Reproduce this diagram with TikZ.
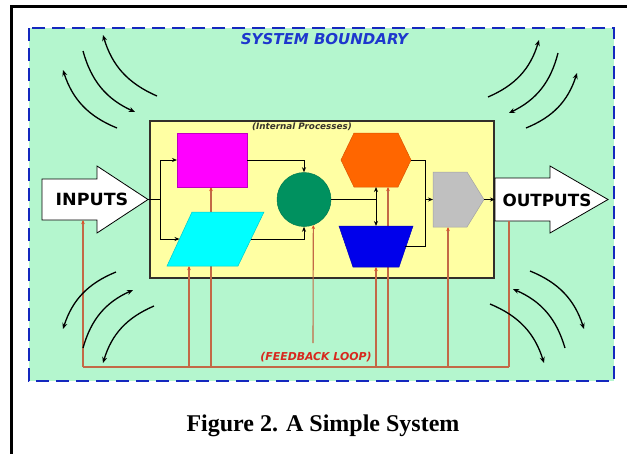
\documentclass[tikz,border=0pt]{standalone}
\usepackage{fontspec}
\usepackage{graphicx}
\setmainfont{Liberation Serif}
\newfontfamily\labelfont{DejaVu Sans}
\usetikzlibrary{arrows.meta,calc}

\definecolor{mint}{RGB}{180,246,206}
\definecolor{paleyellow}{RGB}{255,255,163}
\definecolor{edgeblue}{RGB}{20,40,190}
\definecolor{titleblue}{RGB}{30,55,205}
\definecolor{procmagenta}{RGB}{255,0,255}
\definecolor{proccyan}{RGB}{0,255,255}
\definecolor{procgreen}{RGB}{0,145,95}
\definecolor{procorange}{RGB}{255,102,0}
\definecolor{procblue}{RGB}{0,0,235}
\definecolor{procgray}{RGB}{192,192,192}
\definecolor{fbline}{RGB}{195,105,70}
\definecolor{fbtip}{RGB}{225,75,35}
\definecolor{fbtext}{RGB}{215,40,30}

\tikzset{
  anchorbox/.style={draw=none, inner sep=0pt, outer sep=0pt},
  wire/.style={draw=black, line width=1pt},
  wirearrow/.style={wire, -{Stealth[length=5pt,width=4pt]}},
  fb/.style={draw=fbline, line width=1.1pt},
  fbarrow/.style={fb, -{Stealth[length=4pt,width=3.5pt,color=fbtip]}},
  wave/.style={draw=black, line width=1.3pt, -{Stealth[length=6pt,width=5pt]}, bend angle=25},
  iobody/.style={fill=white, draw=black, line width=0.8pt, line join=miter},
  iolabel/.style={font=\labelfont\bfseries\fontsize{16.8}{18}\selectfont, inner sep=0pt},
}

\begin{document}
\begin{tikzpicture}[x=1pt, y=-1pt]
\useasboundingbox (0,0) rectangle (627,453);
\fill[white] (0,0) rectangle (627,453);

% page frame (top and left rules)
\draw[line width=3pt] (640,6) -- (11,6) -- (11,460);

% system boundary
\filldraw[fill=mint, draw=edgeblue, line width=2.3pt, dash pattern=on 13pt off 7pt]
  (29,28) rectangle (614,381);
\node[font=\labelfont\bfseries\itshape\fontsize{15}{17}\selectfont, text=titleblue, inner sep=0pt]
  (title) at (324.5,39) {SYSTEM BOUNDARY};

% internal processes area
\filldraw[fill=paleyellow, draw=black!85!olive, line width=1.8pt] (150,121) rectangle (494,278);
\node[font=\labelfont\bfseries\itshape\fontsize{8.8}{10}\selectfont, text=black!80!olive, inner sep=0pt]
  (internal) at (302,126.5) {(Internal Processes)};

% input and output arrows
\filldraw[iobody] (42,179) -- (97,179) -- (97,166) -- (148,199.5) -- (97,233) -- (97,220) -- (42,220) -- cycle;
\node[anchorbox, minimum width=55, minimum height=41] (in) at (69.5,199.5) {};
\coordinate (intip) at (148,199.5);
\node[iolabel] (inlabel) at (92,199.5) {\scalebox{1.04}[1]{INPUTS}};

\filldraw[iobody] (495,178) -- (550,178) -- (550,166) -- (608,199.5) -- (550,233) -- (550,221) -- (495,221) -- cycle;
\node[anchorbox, minimum width=55, minimum height=43] (out) at (522.5,199.5) {};
\node[iolabel] (outlabel) at (547,200) {OUTPUTS};

% process anchors
\node[anchorbox, minimum width=70, minimum height=54] (mag) at (212,160) {};
\node[anchorbox, minimum width=97, minimum height=54] (para) at (215.5,239) {};
\coordinate (paraL) at (179.5,239);
\coordinate (paraR) at (251,239);
\node[anchorbox, minimum width=70, minimum height=54] (hex) at (376,160) {};
\node[anchorbox, minimum width=74, minimum height=41] (trap) at (376,246.5) {};
\coordinate (trapR) at (405,246);
\node[anchorbox, minimum width=51, minimum height=55] (gate) at (458.5,199.5) {};

% feedback loop
\coordinate (busL) at (83,367);
\coordinate (busR) at (509,367);
\coordinate (f1) at (189,367);
\coordinate (f2) at (211,367);
\coordinate (f3) at (376,367);
\coordinate (f4) at (388,367);
\coordinate (f5) at (448,367);
\coordinate (fc) at (313,343);
\draw[fb] (busL) -- (busR);
\draw[fb] (busR) -- (busR |- out.south);
\draw[fbarrow] (busL) -- (busL |- in.south);
\draw[fbarrow] (f1) -- (f1 |- para.south);
\draw[fbarrow] (f2) -- (f2 |- mag.south);
\draw[fbarrow] (f3) -- (f3 |- trap.south);
\draw[fbarrow] (f4) -- (f4 |- hex.south);
\draw[fbarrow] (f5) -- (f5 |- gate.south);
\node[font=\labelfont\bfseries\itshape\fontsize{10.9}{12}\selectfont, text=fbtext, inner sep=0pt]
  (fbtitle) at (316,357) {(FEEDBACK LOOP)};

% process shapes
\filldraw[fill=procmagenta, draw=procmagenta!75!black, line width=0.6pt] (177,133) rectangle (247,187);
\filldraw[fill=proccyan, draw=proccyan!80!black, line width=0.5pt]
  (192,212) -- (264,212) -- (238,266) -- (167,266) -- cycle;
\node[circle, fill=procgreen, draw=procgreen!85!black, line width=0.5pt, minimum size=54, inner sep=0pt] (circ) at (304,199.5) {};
\filldraw[fill=procorange, draw=procorange!85!black, line width=0.5pt]
  (341,160) -- (354,133) -- (398,133) -- (411,160) -- (398,187) -- (354,187) -- cycle;
\filldraw[fill=procblue, draw=procblue!80!black, line width=0.5pt]
  (339,226) -- (413,226) -- (399,267) -- (353,267) -- cycle;
\filldraw[fill=procgray, draw=procgray!85!black, line width=0.5pt]
  (433,172) -- (467,172) -- (484,199.5) -- (467,227) -- (433,227) -- cycle;

% feedback into the circle
\draw[fbarrow] (fc) -- (circ.-70.5);

% process wiring
\coordinate (jin) at (160,199.5);
\coordinate (jmid) at (376,199.5);
\coordinate (jout) at (425,199.5);
\draw[wire] (intip) -- (jin);
\draw[wirearrow] (jin) |- (mag.west);
\draw[wirearrow] (jin) |- (paraL);
\draw[wirearrow] (mag.east) -| (circ.north);
\draw[wirearrow] (paraR) -| (circ.south);
\draw[wire] (circ.east) -- (jmid);
\draw[wirearrow] (jmid) -- (hex.south);
\draw[wirearrow] (jmid) -- (trap.north);
\draw[wire] (hex.east) -| (jout);
\draw[wire] (trapR) -| (jout);
\draw[wirearrow] (jout) -- (gate.west);
\draw[wirearrow] (gate.east) -- (out.west);

% environment exchange arcs
\coordinate (tl1a) at (117,128); \coordinate (tl1b) at (63,70);
\coordinate (tl2a) at (83,51);   \coordinate (tl2b) at (135,112);
\coordinate (tl3a) at (157,96);  \coordinate (tl3b) at (103,35);
\coordinate (tr1a) at (488,97);  \coordinate (tr1b) at (539,40);
\coordinate (tr2a) at (558,53);  \coordinate (tr2b) at (509,113);
\coordinate (tr3a) at (526,128); \coordinate (tr3b) at (577,73);
\coordinate (bl1a) at (116,272); \coordinate (bl1b) at (63,329);
\coordinate (bl2a) at (83,348);  \coordinate (bl2b) at (133,290);
\coordinate (bl3a) at (154,306); \coordinate (bl3b) at (103,363);
\coordinate (br1a) at (530,271); \coordinate (br1b) at (584,329);
\coordinate (br2a) at (565,348); \coordinate (br2b) at (513,289);
\coordinate (br3a) at (490,304); \coordinate (br3b) at (544,363);
\draw[wave] (tl1a) to[bend left] (tl1b);
\draw[wave] (tl2a) to[bend right] (tl2b);
\draw[wave] (tl3a) to[bend left] (tl3b);
\draw[wave] (tr1a) to[bend right] (tr1b);
\draw[wave] (tr2a) to[bend left] (tr2b);
\draw[wave] (tr3a) to[bend right] (tr3b);
\draw[wave] (bl1a) to[bend right] (bl1b);
\draw[wave] (bl2a) to[bend left] (bl2b);
\draw[wave] (bl3a) to[bend right] (bl3b);
\draw[wave] (br1a) to[bend left] (br1b);
\draw[wave] (br2a) to[bend right] (br2b);
\draw[wave] (br3a) to[bend left] (br3b);

% caption
\node[font=\bfseries\fontsize{24}{28}\selectfont, anchor=base, inner sep=0pt]
  (caption) at (323,431.5) {Figure 2. A Simple System};
\end{tikzpicture}
\end{document}
